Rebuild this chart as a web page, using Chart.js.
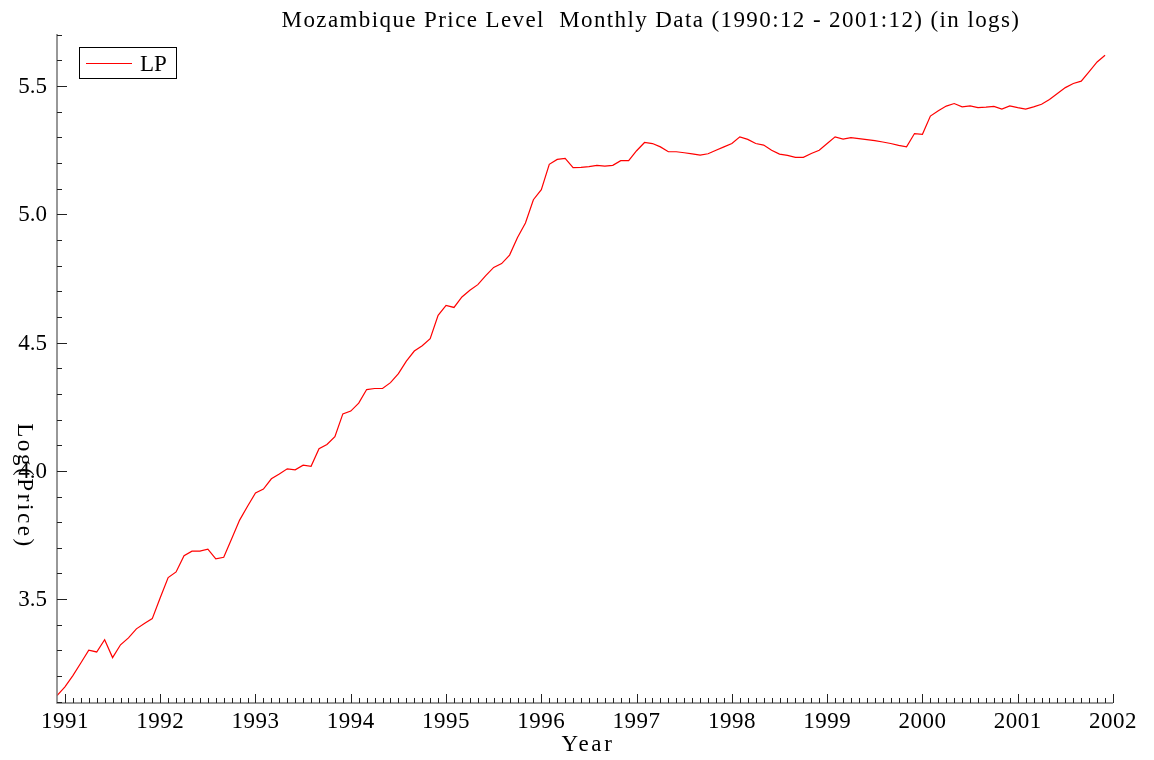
<!DOCTYPE html>
<html>
<head>
<meta charset="utf-8">
<script src="https://cdn.jsdelivr.net/npm/chart.js@4.4.0/dist/chart.umd.min.js"></script>
<style>
  html, body { margin: 0; padding: 0; background: #fff; }
</style>
</head>
<body>
<canvas id="myChart" width="1154" height="760"></canvas>
<script>
// monthly series, 1990:12 .. 2001:12
const startYear = 1990;
const startMonth = 12;
const seriesLabel = "LP";
const lpValues = [
  3.124, 3.158, 3.202, 3.251, 3.301, 3.294, 3.342, 3.272, 3.322, 3.349, 3.384, 3.405, 3.424,
  3.505, 3.584, 3.606, 3.669, 3.687, 3.687, 3.695, 3.657, 3.663, 3.735, 3.808, 3.862,
  3.914, 3.929, 3.969, 3.988, 4.008, 4.004, 4.022, 4.018, 4.086, 4.103, 4.133, 4.222,
  4.233, 4.264, 4.317, 4.321, 4.321, 4.344, 4.379, 4.428, 4.467, 4.488, 4.515, 4.606,
  4.645, 4.637, 4.678, 4.704, 4.726, 4.761, 4.793, 4.808, 4.841, 4.910, 4.966, 5.057,
  5.096, 5.195, 5.214, 5.218, 5.182, 5.183, 5.186, 5.191, 5.188, 5.191, 5.209, 5.209,
  5.248, 5.280, 5.276, 5.263, 5.244, 5.244, 5.240, 5.236, 5.231, 5.236, 5.250, 5.263,
  5.276, 5.302, 5.292, 5.276, 5.270, 5.250, 5.235, 5.230, 5.222, 5.222, 5.237, 5.250,
  5.276, 5.302, 5.293, 5.299, 5.295, 5.291, 5.287, 5.282, 5.276, 5.269, 5.263, 5.315,
  5.312, 5.383, 5.404, 5.422, 5.432, 5.419, 5.423, 5.416, 5.418, 5.421, 5.410, 5.423,
  5.416, 5.410, 5.419, 5.429, 5.448, 5.471, 5.494, 5.510, 5.519, 5.556, 5.594, 5.620
];
const yearTicks = [1991, 1992, 1993, 1994, 1995, 1996, 1997, 1998, 1999, 2000, 2001, 2002];
const yTicks = [3.5, 4.0, 4.5, 5.0, 5.5];
const titleText = "Mozambique Price Level  Monthly Data (1990:12 - 2001:12) (in logs)";
const xTitle = "Year";
const yTitle = "Log(Price)";

const FONT = "23px 'Liberation Serif', 'Times New Roman', serif";

const points = lpValues.map((v, i) => ({ x: startYear + (startMonth - 1 + i) / 12, y: v }));

// axes, ticks, labels, legend and title drawn by hand (PcGive style)
const pcAxes = {
  id: "pcAxes",
  afterDraw(chart) {
    const ctx = chart.ctx;
    const xs = chart.scales.x, ys = chart.scales.y;
    const area = chart.chartArea;
    ctx.save();

    // axis lines
    ctx.strokeStyle = "#777";
    ctx.lineWidth = 1.5;
    ctx.beginPath();
    ctx.moveTo(area.left, area.top);
    ctx.lineTo(area.left, area.bottom);
    ctx.lineTo(area.right, area.bottom);
    ctx.stroke();

    // tick marks
    ctx.strokeStyle = "#222";
    ctx.lineWidth = 1;
    ctx.beginPath();
    for (let k = 31; k <= 57; k++) {
      const v = k / 10;
      const py = Math.round(ys.getPixelForValue(v)) + 0.5;
      const len = (k % 5 === 0) ? 10 : 5;
      ctx.moveTo(area.left, py);
      ctx.lineTo(area.left + len, py);
    }
    for (let y = yearTicks[0]; y < yearTicks[yearTicks.length - 1] + 0.01; y += 1) {
      for (let m = 0; m < 12; m++) {
        const v = y + m / 12;
        if (v > xs.max + 1e-6) break;
        const px = Math.round(xs.getPixelForValue(v)) + 0.5;
        const len = (m === 0) ? 9 : 5;
        ctx.moveTo(px, area.bottom);
        ctx.lineTo(px, area.bottom - len);
      }
    }
    ctx.stroke();

    // tick labels
    ctx.fillStyle = "#000";
    ctx.font = FONT;
    ctx.textAlign = "right";
    ctx.textBaseline = "middle";
    yTicks.forEach(v => {
      ctx.fillText(v.toFixed(1), area.left - 10, ys.getPixelForValue(v) + 1);
    });
    ctx.textAlign = "center";
    ctx.textBaseline = "alphabetic";
    ctx.letterSpacing = "0.5px";
    yearTicks.forEach(v => {
      ctx.fillText(String(v), xs.getPixelForValue(v), area.bottom + 25);
    });

    // axis titles
    ctx.letterSpacing = "2.6px";
    ctx.fillText(xTitle, (area.left + area.right) / 2 + 3, 751);
    ctx.save();
    ctx.translate(18, 486);
    ctx.rotate(Math.PI / 2);
    ctx.textAlign = "center";
    ctx.fillText(yTitle, 0, 0);
    ctx.restore();

    // title
    ctx.letterSpacing = "1.4px";
    ctx.textAlign = "center";
    ctx.fillText(titleText, 651, 27);

    // legend
    ctx.letterSpacing = "0px";
    ctx.strokeStyle = "#000";
    ctx.lineWidth = 1;
    ctx.strokeRect(79.5, 47.5, 97, 31);
    ctx.strokeStyle = "#ff0000";
    ctx.beginPath();
    ctx.moveTo(86, 63.5);
    ctx.lineTo(132, 63.5);
    ctx.stroke();
    ctx.textAlign = "left";
    ctx.fillText(seriesLabel, 140, 71);

    ctx.restore();
  }
};

const ctx = document.getElementById("myChart");
const myChart = new Chart(ctx, {
  type: "line",
  data: {
    datasets: [{
      label: seriesLabel,
      data: points,
      borderColor: "#ff0000",
      borderWidth: 1.2,
      pointRadius: 0,
      tension: 0,
      fill: false,
    }],
  },
  options: {
    responsive: false,
    animation: false,
    devicePixelRatio: 1,
    layout: { padding: { left: 57, right: 41, top: 34, bottom: 57 } },
    plugins: {
      legend: { display: false },
      title: { display: false },
      tooltip: { enabled: false },
    },
    scales: {
      x: { type: "linear", display: false, min: 1990 + 11 / 12, max: 2002 },
      y: { type: "linear", display: false, min: 3.095, max: 5.703 },
    },
  },
  plugins: [pcAxes],
});
</script>
</body>
</html>
